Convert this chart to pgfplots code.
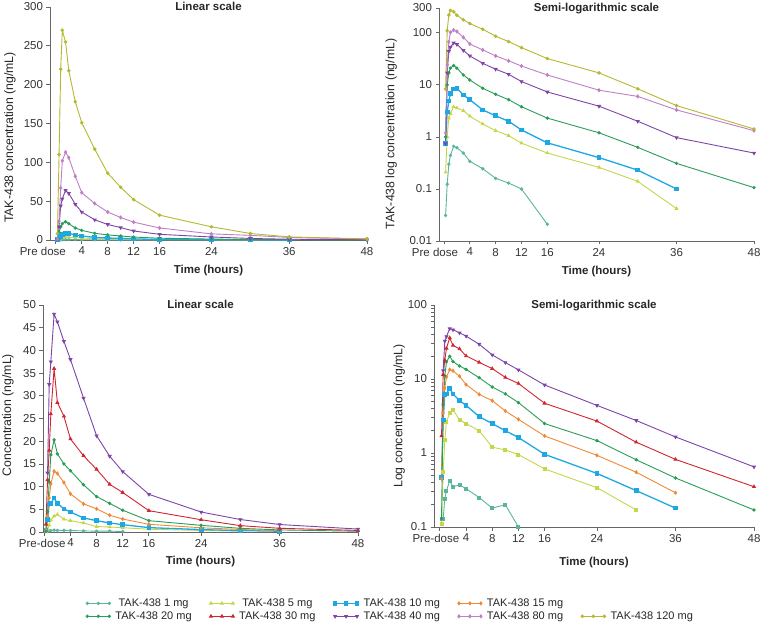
\documentclass[border=0pt]{standalone}
\usepackage{fontspec}
\setmainfont{Liberation Sans}
\usepackage{pgfplots}
\usepackage{pgfplotstable}
\pgfplotsset{compat=1.18}

\definecolor{c1}{HTML}{5AB4A0}
\definecolor{c5}{HTML}{C5D64B}
\definecolor{c10}{HTML}{1DA8E3}
\definecolor{c15}{HTML}{EE8A35}
\definecolor{c20}{HTML}{2A9D57}
\definecolor{c30}{HTML}{D0262E}
\definecolor{c40}{HTML}{7E45A6}
\definecolor{c80}{HTML}{BF7FC6}
\definecolor{c120}{HTML}{B5B832}

% single dose (top row)
\pgfplotstableread{
t     d1    d5    d10   d20   d40   d80   d120
0.25  0.031 0.21  0.74  1.0   0.74  1.2   8.3
0.5   0.123 1.0   3.0   10    17    24    110
0.75  0.30  2.3   4.9   17    44    67    220
1     0.44  2.8   6.8   21    53    102   270
1.5   0.66  3.8   8.3   23.5  64    113   255
2     0.62  3.6   8.6   21    60    106   218
3     0.49  3.2   6.4   15.5  46    82    178
4     0.34  2.5   5.2   12.4  36    61    151
6     0.245 1.77  3.3   8.6   26    47    117
8     0.16  1.32  2.55  6.6   20    36    86
10    0.13  1.06  2.0   5.2   16    29    68
12    0.10  0.76  1.36  3.8   11.6  23    52
16    0.021 0.49  0.77  2.3   7.3   15.5  32
24    nan   0.26  0.40  1.2   3.9   7.9   17
30    nan   0.14  0.23  0.63  2.0   6.0   8.4
36    nan   0.042 0.10  0.31  0.97  3.3   4.0
48    nan   nan   nan   0.106 0.49  1.32  1.42
}\sdtab

% multiple dose (bottom row)
\pgfplotstableread{
t     d1    d5    d10   d15   d20   d30   d40
0.25  0.13  0.11  0.47  0.45  0.13  1.7   nan
0.5   0.13  0.55  2.8   3.5   4.5   11.5  13
0.75  0.24  1.5   6.2   7.5   11    18    32.5
1     0.31  2.6   6.3   10.6  17    26    37.5
1.5   0.42  3.5   7.5   13.4  20.3  36    48
2     0.35  3.85  6.3   12.9  17.2  28.5  46.3
3     0.37  2.8   5.1   10.9  15    25.5  42
4     0.33  2.5   4.4   8.4   13.5  20.5  38
6     0.25  2.0   3.1   6.2   10.4  16.8  29.5
8     0.18  1.2   2.5   5.1   7.8   13.8  21.2
10    0.20  1.1   2.0   3.7   6.3   10.5  16.7
12    0.10  0.95  1.62  2.85  4.8   8.7   13.3
16    nan   0.61  0.96  1.7   2.5   4.7   8.3
24    nan   0.34  0.53  0.93  1.47  2.7   4.4
30    nan   0.17  0.31  0.55  0.81  1.4   2.75
36    nan   nan   0.18  0.29  0.46  0.82  1.65
48    nan   nan   nan   nan   0.17  0.35  0.65
}\mdtab

\pgfplotsset{
  s1/.style={color=c1, mark=*, mark size=1.2pt},
  s5/.style={color=c5, mark=triangle*, mark size=1.5pt},
  s10/.style={color=c10, mark=square*, mark size=1.7pt, line width=1.3pt},
  s15/.style={color=c15, mark=diamond*, mark size=1.5pt},
  s20/.style={color=c20, mark=*, mark size=1.2pt},
  s30/.style={color=c30, mark=triangle*, mark size=1.6pt},
  s40/.style={color=c40, mark=triangle*, mark size=1.6pt, mark options={rotate=180}},
  s80/.style={color=c80, mark=diamond*, mark size=1.5pt},
  s120/.style={color=c120, mark=*, mark size=1.3pt},
  pk/.style={
    scale only axis, axis lines=left,
    axis line style={draw=black!60, line width=0.8pt, -},
    tick style={draw=black!60, line width=0.8pt},
    tick align=outside, major tick length=3.5pt,
    minor tick num=0, clip=false,
    ticklabel style={font=\fontsize{11.5}{13}\selectfont, text=black!80},
    /pgf/number format/assume math mode=true,
    xtick={4,8,12,16,24,36,48}, xmax=48,
    xlabel={Time (hours)},
    xlabel style={font=\bfseries\fontsize{11.5}{13}\selectfont, text=black!85, anchor=center},
    ylabel style={font=\fontsize{12.3}{14}\selectfont, text=black!85, anchor=center},
    title style={font=\bfseries\fontsize{11.5}{13}\selectfont, text=black!85,
      at={(0.5,1)}, anchor=north, inner sep=0pt, yshift=-1pt},
    every axis plot/.append style={line width=0.9pt, forget plot},
  },
}

\begin{document}
\begin{tikzpicture}
\useasboundingbox (0,0) rectangle (762pt,622pt);

% top left
\begin{axis}[pk, at={(50pt,382pt)}, anchor=south west, width=317pt, height=233pt,
  xmin=-0.9, ymin=0, ymax=300, ytick={0,50,...,300},
  extra x ticks={0}, extra x tick labels={Pre dose},
  extra x tick style={xticklabel style={xshift=-13pt}},
  title={Linear scale},
  ylabel={TAK-438 concentration (ng/mL)},
  ylabel style={at={(axis description cs:-0.126,0.44)}},
  xlabel style={at={(axis description cs:0.5,-0.129)}}]
\addplot[s1] table[x=t,y=d1] {\sdtab};
\addplot[s5] table[x=t,y=d5] {\sdtab};
\addplot[s10] table[x=t,y=d10] {\sdtab};
\addplot[s20] table[x=t,y=d20] {\sdtab};
\addplot[s40] table[x=t,y=d40] {\sdtab};
\addplot[s80] table[x=t,y=d80] {\sdtab};
\addplot[s120] table[x=t,y=d120] {\sdtab};
\end{axis}

% top right
\begin{axis}[pk, at={(439pt,381pt)}, anchor=south west, width=315pt, height=233pt,
  xmin=-0.77, ymode=log, ymin=0.01, ymax=300,
  ytick={0.01,0.1,1,10,100,300}, yticklabels={0.01,0.1,1,10,100,300},
  extra x ticks={0}, extra x tick labels={Pre dose},
  extra x tick style={xticklabel style={xshift=-9pt}},
  title={Semi-logarithmic scale},
  ylabel={TAK-438 log concentration (ng/mL)},
  ylabel style={at={(axis description cs:-0.152,0.46)}},
  xlabel style={at={(axis description cs:0.5,-0.133)}}]
\addplot[s1] table[x=t,y=d1] {\sdtab};
\addplot[s5] table[x=t,y=d5] {\sdtab};
\addplot[s10] table[x=t,y=d10] {\sdtab};
\addplot[s20] table[x=t,y=d20] {\sdtab};
\addplot[s40] table[x=t,y=d40] {\sdtab};
\addplot[s80] table[x=t,y=d80] {\sdtab};
\addplot[s120] table[x=t,y=d120] {\sdtab};
\end{axis}

% bottom left
\begin{axis}[pk, at={(43pt,90pt)}, anchor=south west, width=315pt, height=227pt,
  xmin=-0.2, ymin=0, ymax=50, ytick={0,5,...,50},
  extra x ticks={0}, extra x tick labels={Pre-dose},
  extra x tick style={xticklabel style={xshift=-2pt}},
  title={Linear scale},
  ylabel={Concentration (ng/mL)},
  ylabel style={at={(axis description cs:-0.111,0.515)}},
  xlabel style={at={(axis description cs:0.5,-0.132)}},
  legend columns=5,
  legend style={draw=none, fill=none, inner sep=0pt, outer sep=0pt,
    at={(axis description cs:0.137,-0.29)}, anchor=north west,
    font=\fontsize{11}{12}\selectfont, text=black!85,
    nodes={inner sep=0.9pt}, row sep=2pt,
    /tikz/every odd column/.append style={column sep=4pt},
    /tikz/every even column/.append style={column sep=17pt}},
  legend image code/.code={\draw[#1] plot coordinates {(0pt,0pt) (11pt,0pt) (22pt,0pt)};}]
\addplot[s1] table[x=t,y=d1] {\mdtab};
\addplot[s5] table[x=t,y=d5] {\mdtab};
\addplot[s10] table[x=t,y=d10] {\mdtab};
\addplot[s15] table[x=t,y=d15] {\mdtab};
\addplot[s20] table[x=t,y=d20] {\mdtab};
\addplot[s30] table[x=t,y=d30] {\mdtab};
\addplot[s40] table[x=t,y=d40] {\mdtab};
\addlegendimage{s1, line width=0.9pt}\addlegendentry{TAK-438 1 mg}
\addlegendimage{s5, line width=0.9pt}\addlegendentry{TAK-438 5 mg}
\addlegendimage{s10}\addlegendentry{TAK-438 10 mg}
\addlegendimage{s15, line width=0.9pt}\addlegendentry{TAK-438 15 mg}
\addlegendimage{empty legend}\addlegendentry{}
\addlegendimage{s20, line width=0.9pt}\addlegendentry{TAK-438 20 mg}
\addlegendimage{s30, line width=0.9pt}\addlegendentry{TAK-438 30 mg}
\addlegendimage{s40, line width=0.9pt}\addlegendentry{TAK-438 40 mg}
\addlegendimage{s80, line width=0.9pt}\addlegendentry{TAK-438 80 mg}
\addlegendimage{s120, line width=0.9pt}\addlegendentry{TAK-438 120 mg}
\end{axis}

% bottom right
\begin{axis}[pk, at={(434pt,95pt)}, anchor=south west, width=320pt, height=222pt,
  xmin=-0.9, ymode=log, ymin=0.1, ymax=100,
  ytick={0.1,1,10,100}, yticklabels={0.1,1,10,100},
  extra x ticks={0}, extra x tick labels={Pre-dose},
  extra x tick style={xticklabel style={xshift=-4pt}},
  title={Semi-logarithmic scale},
  ylabel={Log concentration (ng/mL)},
  ylabel style={at={(axis description cs:-0.109,0.5)}},
  xlabel style={at={(axis description cs:0.5,-0.158)}}]
\addplot[s1, mark=square*, mark size=1.5pt] table[x=t,y=d1] {\mdtab};
\addplot[s5, mark=square*, mark size=1.5pt] table[x=t,y=d5] {\mdtab};
\addplot[s10] table[x=t,y=d10] {\mdtab};
\addplot[s15] table[x=t,y=d15] {\mdtab};
\addplot[s20] table[x=t,y=d20] {\mdtab};
\addplot[s30] table[x=t,y=d30] {\mdtab};
\addplot[s40] table[x=t,y=d40] {\mdtab};
\end{axis}
\end{tikzpicture}
\end{document}
